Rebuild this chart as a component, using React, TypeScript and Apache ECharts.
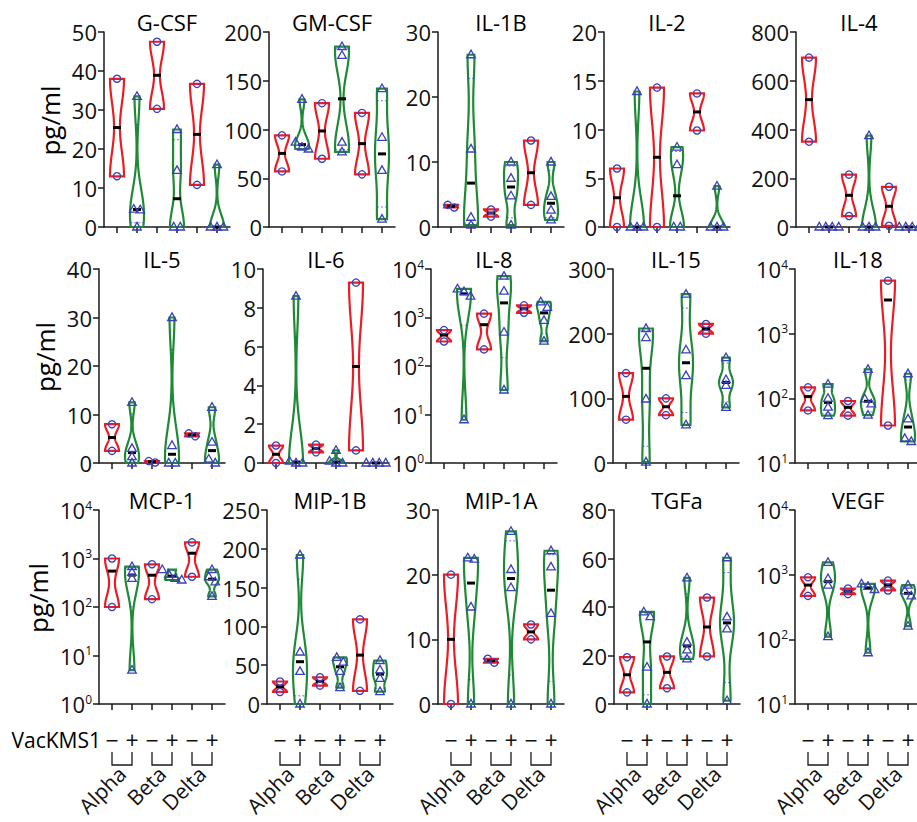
import React, { useEffect, useRef } from "react";
import * as echarts from "echarts";

// ---------- categories & labels ----------
const GROUPS = ["Alpha", "Beta", "Delta"];
const SIGNS = ["\u2212", "+"];
const TREATMENT = "VacKMS1";
const UNIT = "pg/ml";
const TITLES = [
  "G-CSF", "GM-CSF", "IL-1B", "IL-2", "IL-4",
  "IL-5", "IL-6", "IL-8", "IL-15", "IL-18",
  "MCP-1", "MIP-1B", "MIP-1A", "TGFa", "VEGF",
];

// ---------- values: Alpha−, Alpha+, Beta−, Beta+, Delta−, Delta+ ----------
const G_CSF = [[38, 13], [33.5, 4.6, 4.4, 0], [47.5, 30.3], [25, 14.5, 0, 0], [36.7, 10.8], [16, 0, 0, 0]];
const GM_CSF = [[94, 57], [131, 87, 82, 80], [127, 70], [185, 176, 87, 77], [117, 54], [142, 92, 58, 8]];
const IL_1B = [[3.4, 3.0], [26.5, 12, 1.5, 0.3], [2.7, 1.6], [10, 7.5, 4.8, 0.3], [13.3, 3.4], [10, 4.7, 2.6, 1.1]];
const IL_2 = [[6, 0], [13.9, 0, 0, 0], [14.3, 0], [8.2, 6.4, 0, 0], [13.7, 9.9], [4.2, 0, 0, 0]];
const IL_4 = [[695, 350], [0, 0, 0, 0], [215, 45], [375, 0, 0, 0], [165, 5], [0, 0, 0, 0]];
const IL_5 = [[8, 2.5], [12.5, 3, 1.3, 0], [0.4, 0.1], [30, 3.6, 0, 0], [6.1, 5.5], [11.5, 4.3, 0.8, 0]];
const IL_6 = [[0.9, 0], [8.6, 0.1, 0, 0], [0.95, 0.55], [0.65, 0.1, 0, 0], [9.3, 0.65], [0, 0, 0, 0]];
const IL_8 = [[550, 320], [3900, 3400, 2750, 7.8], [1200, 220], [7100, 3500, 500, 32], [1780, 1250], [2100, 1620, 870, 325]];
const IL_15 = [[139, 67], [208, 194, 99, 1.5], [100, 74], [261, 175, 135, 59], [215, 200], [163, 129, 120, 86]];
const IL_18 = [[148, 65], [166, 100, 73, 54], [91, 54], [280, 98, 82, 55], [6600, 38], [240, 48, 24, 21.5]];
const MCP_1 = [[1000, 100], [680, 520, 390, 5], [760, 145], [590, 475, 390, 360], [2150, 420], [590, 420, 330, 165]];
const MIP_1B = [[29, 15.5], [192, 67, 42, 0], [34.5, 23.7], [60, 54, 42, 21], [109, 17], [56, 44, 33, 16]];
const MIP_1A = [[20, 0], [22.6, 22.4, 15, 0], [7, 6.4], [26.7, 20.8, 18, 0], [12.3, 10], [23.7, 21.2, 14, 0]];
const TGFA = [[19.3, 4.8], [38, 36, 15.2, 0], [19.6, 6.5], [52, 25.5, 22.3, 18.6], [43.9, 19.6], [60.3, 35.9, 31, 1.4]];
const VEGF = [[910, 470], [1550, 870, 690, 110], [610, 500], [720, 660, 590, 62], [810, 570], [690, 560, 470, 160]];

const DATA = [G_CSF, GM_CSF, IL_1B, IL_2, IL_4, IL_5, IL_6, IL_8, IL_15, IL_18, MCP_1, MIP_1B, MIP_1A, TGFA, VEGF];

// y-axis ranges: [min, max, interval]; interval 0 means log10 axis
const Y_RANGES = [
  [0, 50, 10], [0, 200, 50], [0, 30, 10], [0, 20, 5], [0, 800, 200],
  [0, 40, 10], [0, 10, 2], [1, 10000, 0], [0, 300, 100], [10, 10000, 0],
  [1, 10000, 0], [0, 250, 50], [0, 30, 10], [0, 80, 20], [10, 10000, 0],
];

// ---------- layout & style ----------
const ROW_TOP = [32, 269, 510];
const ROW_BOTTOM = [227, 463, 704];
const UNIT_X = [50, 45, 38];
const COL_LEFT = [
  [104, 269, 438, 604, 796],
  [99, 263, 431, 613, 795],
  [99, 267, 438, 614, 795],
];
const PANEL_W = 126;
const X_MIN = -0.65;
const X_MAX = 5.65;
const FONT = '"Open Sans", "Noto Sans", sans-serif';
const RED = "#ec1c24";
const GREEN = "#1f8a36";
const BLUE = "#3a40b8";
const AXIS = "#1a1a1a";
const HALF_W = 7;
const BW = 0.4;
const TICK_FS = 22;

function quantile(vals: number[], p: number) {
  const s = [...vals].sort((a, b) => a - b);
  const n = s.length;
  const pos = (n + 1) * p;
  if (pos <= 1) return s[0];
  if (pos >= n) return s[n - 1];
  const lo = Math.floor(pos);
  return s[lo - 1] + (pos - lo) * (s[lo] - s[lo - 1]);
}
function median(vals: number[]) {
  const s = [...vals].sort((a, b) => a - b);
  const n = s.length;
  return n % 2 ? s[(n - 1) / 2] : (s[n / 2 - 1] + s[n / 2]) / 2;
}

function makeViolin(values: number[][], isLog: boolean) {
  return (params: any, api: any) => {
    const i = params.dataIndex;
    const vals = values[i];
    const neg = i % 2 === 0;
    const color = neg ? RED : GREEN;
    const f = (v: number) => (isLog ? Math.log10(v) : v);
    const inv = (t: number) => (isLog ? Math.pow(10, t) : t);
    const t = vals.map(f);
    const lo = Math.min(...t);
    const hi = Math.max(...t);
    const cx = api.coord([i, inv(lo)])[0];
    const py = (v: number) => api.coord([i, v])[1];
    const children: any[] = [];
    if (hi - lo > 1e-9) {
      const mean = t.reduce((a, b) => a + b, 0) / t.length;
      const sd = Math.sqrt(t.reduce((a, b) => a + (b - mean) * (b - mean), 0) / (t.length - 1));
      const h = BW * sd;
      const dens = (x: number) => t.reduce((a, tv) => a + Math.exp(-0.5 * ((x - tv) / h) * ((x - tv) / h)), 0);
      const N = 60;
      const levels: number[] = [];
      for (let k = 0; k <= N; k++) levels.push(lo + ((hi - lo) * k) / N);
      const ds = levels.map(dens);
      const dmax = Math.max(...ds);
      const L: number[][] = [];
      const R: number[][] = [];
      levels.forEach((lv, k) => {
        const y = py(inv(lv));
        const w = (HALF_W * ds[k]) / dmax;
        L.push([cx - w, y]);
        R.push([cx + w, y]);
      });
      children.push({
        type: "polygon",
        shape: { points: L.concat(R.reverse()) },
        style: { fill: "none", stroke: color, lineWidth: 2.2, lineJoin: "miter" },
      });
      [quantile(vals, 0.25), quantile(vals, 0.75)].forEach((q) => {
        const tq = f(q);
        if (!(tq > lo + 1e-9 && tq < hi - 1e-9)) return;
        const w = (HALF_W * dens(tq)) / dmax;
        const y = py(q);
        children.push({
          type: "line",
          shape: { x1: cx - w, y1: y, x2: cx + w, y2: y },
          style: { stroke: BLUE, lineWidth: 1, lineDash: [2, 2], opacity: 0.7 },
        });
      });
    }
    const ym = py(median(vals));
    children.push({
      type: "line",
      shape: { x1: cx - 4, y1: ym, x2: cx + 4, y2: ym },
      style: { stroke: "#000", lineWidth: 3 },
    });
    // points, spread horizontally when they overlap
    const ys = vals.map((v) => py(v));
    const order = ys.map((y, k) => k).sort((a, b) => ys[a] - ys[b]);
    const clusters: number[][] = [];
    order.forEach((k) => {
      const last = clusters[clusters.length - 1];
      if (last && Math.abs(ys[k] - ys[last[last.length - 1]]) < 5.5) last.push(k);
      else clusters.push([k]);
    });
    clusters.forEach((cl) => {
      cl.forEach((k, j) => {
        const x = cx + (j - (cl.length - 1) / 2) * 6.5;
        const y = ys[k];
        if (neg) {
          children.push({
            type: "circle",
            shape: { cx: x, cy: y, r: 3.6 },
            style: { fill: "none", stroke: BLUE, lineWidth: 1.3 },
          });
        } else {
          children.push({
            type: "polygon",
            shape: { points: [[x, y - 4.6], [x + 4.3, y + 3], [x - 4.3, y + 3]] },
            style: { fill: "none", stroke: BLUE, lineWidth: 1.3 },
          });
        }
      });
    });
    return { type: "group", children };
  };
}

function makeBracket(yMin: number) {
  return (params: any, api: any) => {
    const j = params.dataIndex;
    const p0 = api.coord([2 * j, yMin]);
    const p1 = api.coord([2 * j + 1, yMin]);
    const y0 = p0[1] + 48;
    const y1 = p0[1] + 61;
    return {
      type: "polyline",
      shape: { points: [[p0[0], y0], [p0[0], y1], [p1[0], y1], [p1[0], y0]] },
      style: { fill: "none", stroke: AXIS, lineWidth: 1.3 },
    };
  };
}

function buildOption() {
  const grid: any[] = [];
  const xAxis: any[] = [];
  const yAxis: any[] = [];
  const series: any[] = [];
  const graphic: any[] = [];
  const positions = DATA[0].map((_, i) => i);
  const lineStyle = { color: AXIS, width: 1.5 };
  const extraX: any[] = [];

  DATA.forEach((values, k) => {
    const r = Math.floor(k / 5);
    const c = k % 5;
    const left = COL_LEFT[r][c];
    const [yMin, yMax, interval] = Y_RANGES[k];
    const isLog = interval === 0;
    const bottom = r === 2;
    grid.push({
      left,
      top: ROW_TOP[r],
      width: PANEL_W,
      height: ROW_BOTTOM[r] - ROW_TOP[r],
      containLabel: false,
      outerBoundsMode: "none",
    });
    xAxis.push({
      gridIndex: k,
      type: "value",
      min: X_MIN,
      max: X_MAX,
      position: "bottom",
      axisLine: { show: true, onZero: false, lineStyle },
      axisTick: { show: true, length: 6, lineStyle, customValues: positions },
      axisLabel: {
        show: bottom,
        customValues: positions,
        formatter: (v: number) => SIGNS[Math.round(v) % 2],
        margin: 24,
        fontSize: 23,
        fontFamily: FONT,
        color: "#111",
        hideOverlap: false,
      },
      splitLine: { show: false },
    });
    yAxis.push({
      gridIndex: k,
      type: isLog ? "log" : "value",
      logBase: 10,
      min: yMin,
      max: yMax,
      ...(isLog ? {} : { interval }),
      axisLine: { show: true, onZero: false, lineStyle },
      axisTick: { show: true, length: 6, lineStyle },
      minorTick: { show: false },
      axisLabel: {
        margin: 7,
        fontSize: TICK_FS,
        fontFamily: FONT,
        color: "#111",
        hideOverlap: false,
        ...(isLog
          ? {
              formatter: (v: number) => `{b|10}{s|${Math.round(Math.log10(v))}}`,
              rich: {
                b: { fontSize: TICK_FS, fontFamily: FONT, color: "#111" },
                s: { fontSize: 12, fontFamily: FONT, color: "#111", verticalAlign: "top" },
              },
            }
          : {}),
      },
      splitLine: { show: false },
    });
    series.push({
      type: "custom",
      xAxisIndex: k,
      yAxisIndex: k,
      clip: false,
      z: 3,
      data: values.map((v, i) => [i, isLog ? Math.max(median(v), yMin) : median(v)]),
      encode: { x: 0, y: 1 },
      renderItem: makeViolin(values, isLog),
    });
    graphic.push({
      type: "text",
      x: left + PANEL_W / 2,
      y: ROW_TOP[r] - 10,
      style: {
        text: TITLES[k],
        fontSize: 22,
        fontFamily: FONT,
        fill: "#000",
        textAlign: "center",
        align: "center",
        textVerticalAlign: "middle",
        verticalAlign: "middle",
      },
    });
    if (bottom) {
      extraX.push({
        gridIndex: k,
        type: "value",
        min: X_MIN,
        max: X_MAX,
        position: "bottom",
        axisLine: { show: false, onZero: false },
        axisTick: { show: false },
        splitLine: { show: false },
        axisLabel: {
          show: true,
          customValues: GROUPS.map((g, j) => 2 * j + 0.5),
          formatter: (v: number) => GROUPS[Math.round((v - 0.5) / 2)],
          rotate: 45,
          margin: 66,
          fontSize: 21,
          fontFamily: FONT,
          color: "#111",
          hideOverlap: false,
        },
      });
      series.push({
        type: "custom",
        xAxisIndex: k,
        yAxisIndex: k,
        clip: false,
        data: GROUPS.map((g, j) => [2 * j + 0.5, yMin]),
        encode: { x: 0, y: 1 },
        renderItem: makeBracket(yMin),
      });
    }
  });
  extraX.forEach((ax) => xAxis.push(ax));

  ROW_TOP.forEach((top, r) => {
    graphic.push({
      type: "text",
      x: UNIT_X[r],
      y: (top + ROW_BOTTOM[r]) / 2 - 9,
      rotation: Math.PI / 2,
      style: {
        text: UNIT,
        fontSize: 26,
        fontFamily: FONT,
        fill: "#000",
        textAlign: "center",
        align: "center",
        textVerticalAlign: "middle",
        verticalAlign: "middle",
      },
    });
  });
  graphic.push({
    type: "text",
    x: 101,
    y: 740,
    style: {
      text: TREATMENT,
      fontSize: 21,
      fontFamily: FONT,
      fill: "#000",
      textAlign: "right",
      align: "right",
      textVerticalAlign: "middle",
      verticalAlign: "middle",
    },
  });

  return {
    animation: false,
    backgroundColor: "#fff",
    grid,
    xAxis,
    yAxis,
    series,
    graphic,
  };
}

export default function App() {
  const ref = useRef<HTMLDivElement>(null);
  useEffect(() => {
    if (!ref.current) return;
    const chart = echarts.init(ref.current, null, { renderer: "svg" });
    chart.setOption(buildOption() as any);
    return () => chart.dispose();
  }, []);
  return (
    <div
      ref={ref}
      style={{ position: "fixed", left: 0, top: 0, width: 917, height: 822, background: "#fff" }}
    />
  );
}
